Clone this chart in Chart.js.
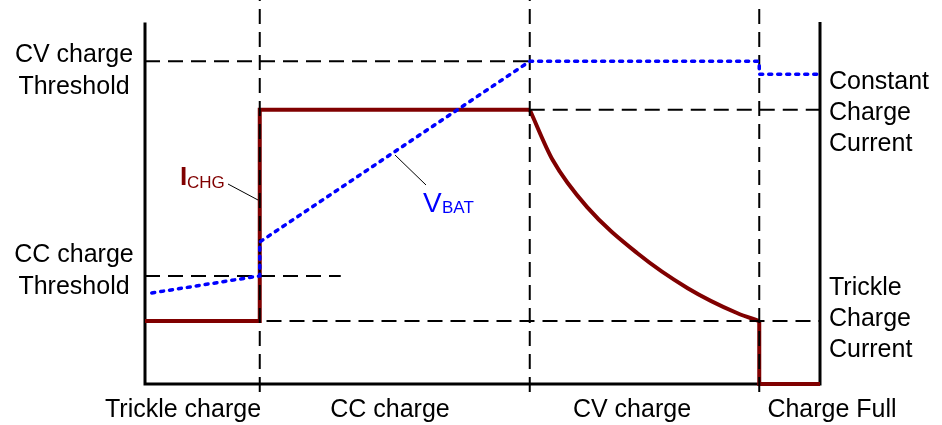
<!DOCTYPE html>
<html>
<head>
<meta charset="utf-8">
<script src="https://cdn.jsdelivr.net/npm/chart.js@4/dist/chart.umd.min.js"></script>
<style>
	html, body { margin: 0; padding: 0; background: #fff; }
	#wrap { width: 942px; height: 425px; position: relative; }
</style>
</head>
<body>
<div id="wrap"><canvas id="chart_charge"></canvas></div>
<script>
// time axis 0..100, level axis 0..119 (arbitrary units)
const phaseNames = ['Trickle charge', 'CC charge', 'CV charge', 'Charge Full'];
const phaseEnds = [17, 57, 91, 100];

const cvThreshold = 100;
const ccThreshold = 33.5;
const ccCurrent = 85;
const trickleCurrent = 19.5;

// charge current, step parts
const ichgX = [0, 17, 17, 57];
const ichgY = [19.5, 19.5, 85, 85];
// charge current, CV decay
const cvCurveX = [57, 60.4, 65.5, 72.9, 80.4, 87.7, 91];
const cvCurveY = [85, 69.4, 54.8, 40.6, 29.7, 22, 19.5];
// charge current, after full
const fullX = [91, 91, 100];
const fullY = [19.5, 0, 0];

// battery voltage
const vbatX = [1, 17, 17, 57, 91, 91, 100];
const vbatY = [28.2, 33.5, 44, 100, 100, 96, 96];

const leftLabels = [['CV charge', 'Threshold'], ['CC charge', 'Threshold']];
const rightLabels = [['Constant', 'Charge', 'Current'], ['Trickle', 'Charge', 'Current']];

function pts(xs, ys){
	return xs.map(function(x, i){ return {x: x, y: ys[i]}; });
}

const RED = 'rgb(128, 0, 0)';
const BLUE = 'rgb(0, 0, 255)';

function guide(points){
	return {
		data: points,
		borderColor: '#000',
		borderWidth: 2,
		borderDash: [15, 8],
		pointRadius: 0,
		fill: false,
		clip: false,
		order: 2
	};
}

const datasets = [
	{ // V_BAT
		data: pts(vbatX, vbatY),
		borderColor: BLUE,
		borderWidth: 3.5,
		borderDash: [3, 6],
		borderCapStyle: 'round',
		pointRadius: 0,
		fill: false,
		clip: false,
		order: 0
	},
	guide([{x: phaseEnds[0], y: -2.5}, {x: phaseEnds[0], y: 119}]),
	guide([{x: phaseEnds[1], y: -2.5}, {x: phaseEnds[1], y: 119}]),
	guide([{x: phaseEnds[2], y: -2.5}, {x: phaseEnds[2], y: 117.5}]),
	guide([{x: 0, y: cvThreshold}, {x: phaseEnds[1], y: cvThreshold}]),
	guide([{x: phaseEnds[1], y: ccCurrent}, {x: 100, y: ccCurrent}]),
	guide([{x: 0, y: ccThreshold}, {x: 29, y: ccThreshold}]),
	guide([{x: 18, y: trickleCurrent}, {x: 100, y: trickleCurrent}]),
	{ // I_CHG steps
		data: pts(ichgX, ichgY),
		borderColor: RED, borderWidth: 4, pointRadius: 0, fill: false, clip: false,
		borderJoinStyle: 'miter', order: 3
	},
	{ // I_CHG decay
		data: pts(cvCurveX, cvCurveY),
		borderColor: RED, borderWidth: 4, pointRadius: 0, fill: false, clip: false,
		cubicInterpolationMode: 'monotone', order: 3
	},
	{ // I_CHG after full
		data: pts(fullX, fullY),
		borderColor: RED, borderWidth: 4, pointRadius: 0, fill: false, clip: false,
		borderJoinStyle: 'miter', order: 3
	},
	{ // axes frame
		data: [{x: 0, y: 112}, {x: 0, y: 0}, {x: 100, y: 0}, {x: 100, y: 112.2}],
		borderColor: '#000', borderWidth: 3, pointRadius: 0, fill: false, clip: false,
		borderJoinStyle: 'miter', order: 4
	}
];

const FONT = '"Liberation Sans", Arial, sans-serif';

const textPlugin = {
	id: 'chargeText',
	afterDatasetsDraw(chart){
		const ctx = chart.ctx;
		ctx.save();
		ctx.textBaseline = 'alphabetic';
		ctx.fillStyle = '#000';
		ctx.font = '25px ' + FONT;

		// phase names under the axis
		ctx.textAlign = 'center';
		const bottomX = [183, 390, 632, 832];
		phaseNames.forEach(function(n, i){ ctx.fillText(n, bottomX[i], 417); });

		// left threshold names
		const leftBase = [62, 262];
		leftLabels.forEach(function(lines, i){
			lines.forEach(function(l, j){ ctx.fillText(l, 74, leftBase[i] + j * 32); });
		});

		// right current names
		ctx.textAlign = 'left';
		const rightBase = [89, 295];
		rightLabels.forEach(function(lines, i){
			lines.forEach(function(l, j){ ctx.fillText(l, 829, rightBase[i] + j * 31); });
		});

		// leader lines
		ctx.strokeStyle = '#000';
		ctx.lineWidth = 1;
		ctx.beginPath();
		ctx.moveTo(228, 184); ctx.lineTo(258, 200);
		ctx.moveTo(395, 155); ctx.lineTo(426, 185);
		ctx.stroke();

		// I_CHG
		ctx.fillStyle = RED;
		ctx.font = 'bold 26px ' + FONT;
		ctx.fillText('I', 180, 185);
		ctx.font = '17px ' + FONT;
		ctx.fillText('CHG', 187, 188);

		// V_BAT
		ctx.fillStyle = BLUE;
		ctx.font = '28px ' + FONT;
		ctx.fillText('V', 423, 212);
		ctx.font = '17px ' + FONT;
		ctx.fillText('BAT', 442, 213);

		ctx.restore();
	}
};

const chart_charge_ctx = document.getElementById('chart_charge').getContext('2d');
const chart_charge = new Chart(chart_charge_ctx, {
	type: 'line',
	data: { datasets: datasets },
	options: {
		responsive: true,
		maintainAspectRatio: false,
		animation: false,
		devicePixelRatio: 1,
		layout: { padding: { left: 145, right: 122, top: 0, bottom: 41 } },
		plugins: { legend: { display: false }, tooltip: { enabled: false } },
		scales: {
			x: { type: 'linear', min: 0, max: 100, display: false },
			y: { type: 'linear', min: 0, max: 119, display: false }
		}
	},
	plugins: [textPlugin]
});
</script>
</body>
</html>
